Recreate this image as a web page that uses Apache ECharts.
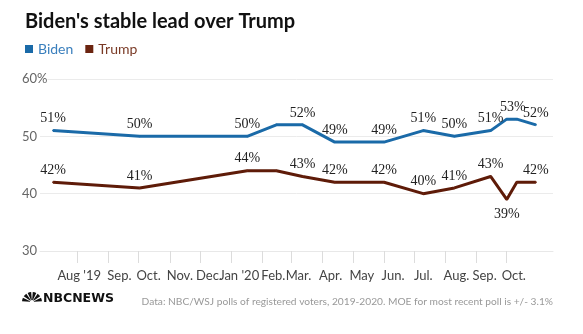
<!DOCTYPE html>
<html>
<head>
<meta charset="utf-8">
<script src="https://cdn.jsdelivr.net/npm/echarts@6/dist/echarts.min.js"></script>
<style>
html,body{margin:0;padding:0;background:#fff;}
#chart{width:583px;height:334px;}
</style>
</head>
<body>
<div id="chart"></div>
<script>
// ---- data ----
const pollDates = ['2019-07-08','2019-10-02','2020-01-17','2020-02-15','2020-03-12','2020-04-13','2020-06-01','2020-07-10','2020-08-10','2020-09-15','2020-10-01','2020-10-11','2020-10-30'];
const biden = [51,50,50,52,52,49,49,51,50,51,53,53,52];
const trump = [42,41,44,44,43,42,42,40,41,43,39,42,42];
const bidenLabeled = [1,1,1,0,1,1,1,1,1,1,1,0,1];
const trumpLabeled = [1,1,1,0,1,1,1,1,1,1,1,0,1];
const monthTicks = ['2019-08-01','2019-09-01','2019-10-01','2019-11-01','2019-12-01','2020-01-01','2020-02-01','2020-03-01','2020-04-01','2020-05-01','2020-06-01','2020-07-01','2020-08-01','2020-09-01','2020-10-01'];
const labelDates = ['2019-08-03','2019-09-12','2019-10-11','2019-11-11','2019-12-10','2020-01-09','2020-02-12','2020-03-08','2020-04-09','2020-05-10','2020-06-10','2020-07-10','2020-08-12','2020-09-09','2020-10-08'];
const monthLabels = ["Aug '19",'Sep.','Oct.','Nov.','Dec.',"Jan '20",'Feb.','Mar.','Apr.','May','Jun.','Jul.','Aug.','Sep.','Oct.'];
const yTicks = [30,40,50,60];

const BLUE = '#1a6aa8', BROWN = '#5e1b08';
const DAY = 86400000;
const ts = s => Date.UTC(+s.slice(0,4), +s.slice(5,7)-1, +s.slice(8,10));
const iso = t => new Date(t).toISOString().slice(0,10);
const labelMap = {};
labelDates.forEach((d,i)=>{ labelMap[ts(d)] = monthLabels[i]; });
const xMin = ts('2019-06-25'), xMax = ts('2020-11-16');
// day-by-day categories for the helper tick axis (same span as the value axis)
const dayCats = [];
for (let t = xMin; t <= xMax; t += DAY) dayCats.push(iso(t));
const tickSet = new Set(monthTicks);

function buildData(vals, shown, name){
  return vals.map((v,i)=>{
    const item = {value:[ts(pollDates[i]), v]};
    if (!shown[i]) item.label = {show:false};
    else if (name==='trump' && v===39) item.label = {show:true, position:'bottom', distance:7};
    else if (name==='biden' && i===10) item.label = {show:true, offset:[6,0]};
    return item;
  });
}

const labelStyle = {
  show:true, position:'top', distance:4, formatter: p => p.value[1] + '%',
  fontFamily:'Liberation Serif', fontSize:14, color:'#222'
};

// peacock feathers
const feathers = [];
const nF = 6;
for (let i=0;i<nF;i++){
  const a0 = Math.PI + i*Math.PI/nF + 0.08;
  const a1 = Math.PI + (i+1)*Math.PI/nF - 0.08;
  feathers.push({type:'sector', shape:{cx:9, cy:11, r0:2, r:10, startAngle:a0, endAngle:a1}, style:{fill:'#111'}});
}

const chart = echarts.init(document.getElementById('chart'));
chart.setOption({
  animation:false,
  backgroundColor:'#fff',
  title:{
    text:"Biden's stable lead over Trump", left:20, top:7,
    textStyle:{fontFamily:'Lato', fontWeight:'bold', fontSize:20, color:'#111'}
  },
  legend:{
    left:20, top:37, icon:'rect', itemWidth:8, itemHeight:8, itemGap:12,
    textStyle:{fontFamily:'Lato', fontSize:14},
    data:[
      {name:'Biden', textStyle:{color:'#3a7fbd'}},
      {name:'Trump', textStyle:{color:'#7a3a26'}}
    ]
  },
  grid:{left:40, right:30, top:79, bottom:83},
  xAxis:[{
    type:'value', min:xMin, max:xMax,
    axisLine:{show:true, lineStyle:{color:'#e8e8e8'}},
    axisTick:{show:false},
    axisLabel:{customValues:labelDates.map(ts), formatter: v => labelMap[v] || '', margin:18,
      fontFamily:'Lato', fontSize:13, color:'#444', hideOverlap:false, showMinLabel:true, showMaxLabel:true},
    splitLine:{show:false}
  },{
    type:'category', data:dayCats, boundaryGap:false, position:'bottom', offset:0,
    axisLine:{show:false},
    axisTick:{show:true, length:12, interval:(idx, val) => tickSet.has(val), lineStyle:{color:'#dcdcdc', width:1}},
    axisLabel:{show:false, interval:(idx, val) => tickSet.has(val)},
    splitLine:{show:false}
  }],
  yAxis:{
    type:'value', min:30, max:60, interval:10,
    axisLine:{show:false}, axisTick:{show:false},
    splitLine:{lineStyle:{color:'#ebebeb'}},
    axisLabel:{align:'left', margin:18, formatter: v => v===60 ? '60%' : String(v),
      fontFamily:'Lato', fontSize:13, color:'#666', backgroundColor:'#fff'}
  },
  series:[
    {name:'Biden', type:'line', xAxisIndex:0, data:buildData(biden,bidenLabeled,'biden'), symbol:'circle', symbolSize:2, showSymbol:true,
      lineStyle:{color:BLUE, width:3}, itemStyle:{color:BLUE}, label:labelStyle, z:3},
    {name:'Trump', type:'line', xAxisIndex:0, data:buildData(trump,trumpLabeled,'trump'), symbol:'circle', symbolSize:2, showSymbol:true,
      lineStyle:{color:BROWN, width:3}, itemStyle:{color:'#6b2410'}, label:labelStyle, z:3},
    {name:'_ticks', type:'line', xAxisIndex:1, yAxisIndex:0, data:dayCats.map(() => null), symbol:'none', silent:true,
      lineStyle:{opacity:0}, tooltip:{show:false}}
  ],
  graphic:[
    {type:'group', left:22, top:292, children: feathers.concat([
      {type:'text', x:20, y:1, style:{text:'NBCNEWS', fontFamily:'DejaVu Sans', fontWeight:'bold', fontSize:12.5, fill:'#111'}}
    ])},
    {type:'text', right:30, top:297, style:{text:'Data: NBC/WSJ polls of registered voters, 2019-2020. MOE for most recent poll is +/- 3.1%', fontFamily:'Lato', fontSize:10.2, fill:'#999'}}
  ]
});
</script>
</body>
</html>
